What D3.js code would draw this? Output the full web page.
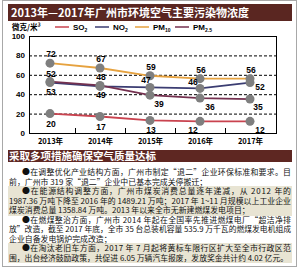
<!DOCTYPE html>
<html>
<head>
<meta charset="utf-8">
<script src="https://cdn.jsdelivr.net/npm/d3@7"></script>
<style>
  body { margin: 0; background: #fff; }
  svg { display: block; }
</style>
</head>
<body>
<script>
const years = ["2013年", "2014年", "2015年", "2016年", "2017年"];
const so2 = [20, 17, 13, 12, 12];
const no2 = [52, 48, 47, 46, 52];
const pm10 = [72, 67, 59, 56, 56];
const pm25 = [53, 49, 39, 36, 35];
const yTicks = [0, 20, 40, 60, 80, 100];

const title = "2013年—2017年广州市环境空气主要污染物浓度";
const heading = "采取多项措施确保空气质量达标";
const bodyLines = [
  "●在调整优化产业结构方面，广州市制定“退二”企业环保标准和要求。目",
  "前，广州市 319 家“退二”企业中已基本完成关停搬迁；",
  "●在能源结构调整方面，广州市煤炭消费总量逐年递减，从 2012 年的",
  "1987.36 万吨下降至 2016 年的 1489.21 万吨；2017 年 1~11 月规模以上工业企业",
  "煤炭消费总量 1358.84 万吨。2013 年以来全市无新建燃煤发电项目；",
  "●在燃煤整治方面，广州市 2014 年起在全国率先推进燃煤电厂“超洁净排",
  "放”改造，截至 2017 年底，全市 35 台总装机容量 535.9 万千瓦的燃煤发电机组成",
  "企业自备发电锅炉完成改造；",
  "●在淘汰老旧车方面，2017 年 7 月起将黄标车限行区扩大至全市行政区范",
  "围，出台经济鼓励政策，共促进 6.05 万辆汽车报废，发放奖金共计约 4.02 亿元。"
];

const series = [
  { name: "SO", sub: "2", values: so2, color: "#c9434f", pos: "b" },
  { name: "NO", sub: "2", values: no2, color: "#3b3d72", pos: "a" },
  { name: "PM", sub: "10", values: pm10, color: "#e6a23f", pos: "a" },
  { name: "PM", sub: "2.5", values: pm25, color: "#74304f", pos: "b" }
];

const width = 300, height = 272;
const cjk = "'Noto Sans CJK SC', 'Noto Sans', sans-serif";
const latin = "'Liberation Sans', Arial, sans-serif";

const svg = d3.select("body").append("svg")
  .attr("width", width)
  .attr("height", height);

// outer frame
svg.append("rect")
  .attr("x", 2.5).attr("y", 0.5)
  .attr("width", 294).attr("height", 266)
  .attr("fill", "#fff").attr("stroke", "#a8a8a8");

// title bar
svg.append("rect")
  .attr("x", 8).attr("y", 4).attr("width", 284).attr("height", 17)
  .attr("fill", "#5a2621");
svg.append("text")
  .attr("x", 11).attr("y", 17)
  .attr("fill", "#fff")
  .style("font-family", cjk).style("font-weight", "bold").style("font-size", "11px")
  .text(title);

// unit + legend
svg.append("text")
  .attr("x", 12).attr("y", 30)
  .style("font-family", cjk).style("font-weight", "bold").style("font-size", "7.5px")
  .text("微克/米³");

const legendX = [55, 95, 135, 175];
const lg = svg.append("g").selectAll("g").data(series).join("g")
  .attr("transform", (d, i) => `translate(${legendX[i]},27)`);
lg.append("line")
  .attr("x1", 0).attr("x2", 14)
  .attr("stroke", d => d.color).attr("stroke-width", 1.5);
const lt = lg.append("text")
  .attr("x", 18).attr("y", 3)
  .style("font-family", latin).style("font-weight", "bold").style("font-size", "8px");
lt.append("tspan").text(d => d.name);
lt.append("tspan").attr("dy", 2).style("font-size", "5px").text(d => d.sub);

// scales
const plot = { left: 29, right: 276, top: 36, bottom: 133 };
const x = d3.scalePoint().domain(years).range([50, 250]);
const y = d3.scaleLinear().domain([0, 100]).range([plot.bottom, plot.top]);

// gridlines
svg.append("g").selectAll("line")
  .data(yTicks.filter(t => t > 0 && t < 100)).join("line")
  .attr("x1", plot.left).attr("x2", plot.right)
  .attr("y1", d => y(d) + 0.5).attr("y2", d => y(d) + 0.5)
  .attr("stroke", "#000").attr("stroke-dasharray", "3,2");

// plot box
svg.append("rect")
  .attr("x", plot.left + 0.5).attr("y", plot.top + 0.5)
  .attr("width", plot.right - plot.left).attr("height", plot.bottom - plot.top)
  .attr("fill", "none").attr("stroke", "#000");

// y axis labels
const yAxis = svg.append("g")
  .attr("transform", `translate(${plot.left},0)`)
  .call(d3.axisLeft(y).tickValues(yTicks).tickSize(0).tickPadding(4));
yAxis.select(".domain").remove();
yAxis.selectAll("text")
  .style("font-family", latin).style("font-weight", "bold").style("font-size", "8px")
  .attr("fill", "#000");

// x ticks between categories (pointing inward)
const mids = d3.pairs(years).map(([a, b]) => (x(a) + x(b)) / 2);
svg.append("g").selectAll("line").data(mids).join("line")
  .attr("x1", d => Math.round(d) + 0.5).attr("x2", d => Math.round(d) + 0.5)
  .attr("y1", plot.bottom).attr("y2", plot.bottom - 5)
  .attr("stroke", "#000");

const xAxis = svg.append("g")
  .attr("transform", `translate(0,${plot.bottom})`)
  .call(d3.axisBottom(x).tickSize(0).tickPadding(6));
xAxis.select(".domain").remove();
xAxis.selectAll("text")
  .style("font-family", cjk).style("font-weight", "bold").style("font-size", "7.5px")
  .attr("fill", "#000");

// lines
const line = d3.line()
  .x((d, i) => x(years[i]))
  .y(d => y(d));
svg.append("g").selectAll("path").data(series).join("path")
  .attr("d", d => line(d.values))
  .attr("fill", "none")
  .attr("stroke", d => d.color)
  .attr("stroke-width", 1.8);

// markers
series.forEach(s => {
  svg.append("g").selectAll("circle").data(s.values).join("circle")
    .attr("cx", (d, i) => x(years[i]))
    .attr("cy", d => y(d))
    .attr("r", 4.5)
    .attr("fill", "#7f7f7f");
});

// value labels (offsets tuned to avoid overlaps)
const special = {
  "NO-2": [-4, -7], "NO-3": [-7, -6], "NO-4": [10, 4],
  "PM2.5-2": [9, 9], "PM2.5-3": [10, 9], "PM2.5-4": [8, 8],
  "SO-3": [-7, 9], "SO-4": [10, 9]
};
series.forEach(s => {
  const key = s.name === "PM" ? "PM" + s.sub : s.name;
  svg.append("g").selectAll("text").data(s.values).join("text")
    .attr("x", (d, i) => {
      const o = special[key + "-" + i];
      return x(years[i]) + (o ? o[0] : 1);
    })
    .attr("y", (d, i) => {
      const o = special[key + "-" + i];
      const dy = o ? o[1] : (s.pos === "a" ? -9 : 10);
      return y(d) + dy + 3;
    })
    .attr("text-anchor", "middle")
    .style("font-family", latin).style("font-weight", "bold").style("font-size", "8.5px")
    .text(d => d);
});

// section heading
svg.append("rect")
  .attr("x", 8).attr("y", 150).attr("width", 284).attr("height", 12)
  .attr("fill", "#5e2722");
svg.append("text")
  .attr("x", 9).attr("y", 160)
  .attr("fill", "#fff")
  .style("font-family", cjk).style("font-weight", "bold").style("font-size", "10.5px")
  .text(heading);

// paragraph shading
[[186, 30], [243, 20]].forEach(([yy, h]) => {
  svg.append("rect")
    .attr("x", 8).attr("y", yy).attr("width", 284).attr("height", h)
    .attr("fill", "#e8e4d3");
});

// body text: shrink a line only if it is too long, then justify by spacing
const lastOfPara = new Set([1, 4, 7, 9]);
const baseSize = 7.9;
svg.append("g").selectAll("text").data(bodyLines).join("text")
  .attr("x", d => d.startsWith("●") ? 22 : 9)
  .attr("y", (d, i) => 175 + i * 9.5)
  .style("font-family", cjk).style("font-size", baseSize + "px")
  .attr("fill", "#111")
  .text(d => d)
  .each(function(d, i) {
    const target = d.startsWith("●") ? 269 : 282;
    const w = this.getComputedTextLength();
    if (w > target) {
      const size = Math.floor(baseSize * target / w * 10) / 10;
      d3.select(this).style("font-size", size + "px");
    }
    if (!lastOfPara.has(i)) {
      const w2 = this.getComputedTextLength();
      if (w2 < target) {
        d3.select(this).attr("textLength", target).attr("lengthAdjust", "spacing");
      }
    }
  });
</script>
</body>
</html>
